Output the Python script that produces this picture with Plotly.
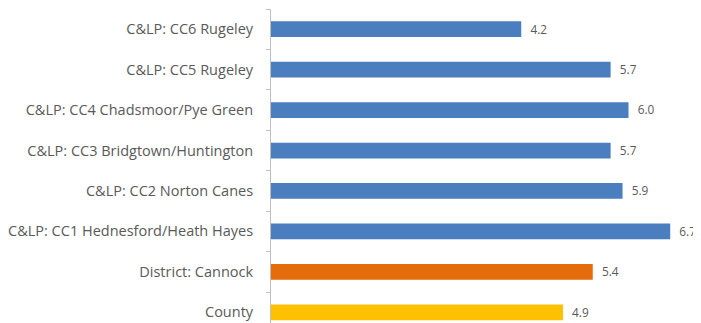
import plotly.graph_objects as go

categories = [
    "County",
    "District: Cannock",
    "C&LP: CC1 Hednesford/Heath Hayes",
    "C&LP: CC2 Norton Canes",
    "C&LP: CC3 Bridgtown/Huntington",
    "C&LP: CC4 Chadsmoor/Pye Green",
    "C&LP: CC5 Rugeley",
    "C&LP: CC6 Rugeley",
]
values = [4.9, 5.4, 6.7, 5.9, 5.7, 6.0, 5.7, 4.2]
bar_colors = ["#FFC000", "#E46C0A", "#4A7EBF", "#4A7EBF", "#4A7EBF", "#4A7EBF", "#4A7EBF", "#4A7EBF"]

fig = go.Figure(go.Bar(
    x=values,
    y=categories,
    orientation="h",
    marker=dict(color=bar_colors, line=dict(width=0)),
    width=0.39,
    texttemplate="  %{x:.1f}",
    textposition="outside",
    textfont=dict(family="Open Sans", size=13.5, color="#595959"),
    cliponaxis=False,
    hoverinfo="skip",
))

# the page body has an 8px margin, so the figure is sized to fit the window
fig.update_layout(
    width=693,
    height=315,
    margin=dict(l=260, r=0, t=1, b=0),
    paper_bgcolor="white",
    plot_bgcolor="white",
    showlegend=False,
    xaxis=dict(
        range=[0, 433 / 60],
        visible=False,
        showgrid=False,
        zeroline=False,
    ),
    yaxis=dict(
        range=[-0.265, 7.5],
        showline=True,
        linecolor="#BFBFBF",
        linewidth=1,
        ticks="outside",
        tickson="boundaries",
        ticklen=4,
        tickcolor="#BFBFBF",
        ticklabelstandoff=14,
        tickfont=dict(family="Open Sans", size=14.5, color="#595959"),
        showgrid=False,
        zeroline=False,
    ),
)

fig.write_html("out.html")
